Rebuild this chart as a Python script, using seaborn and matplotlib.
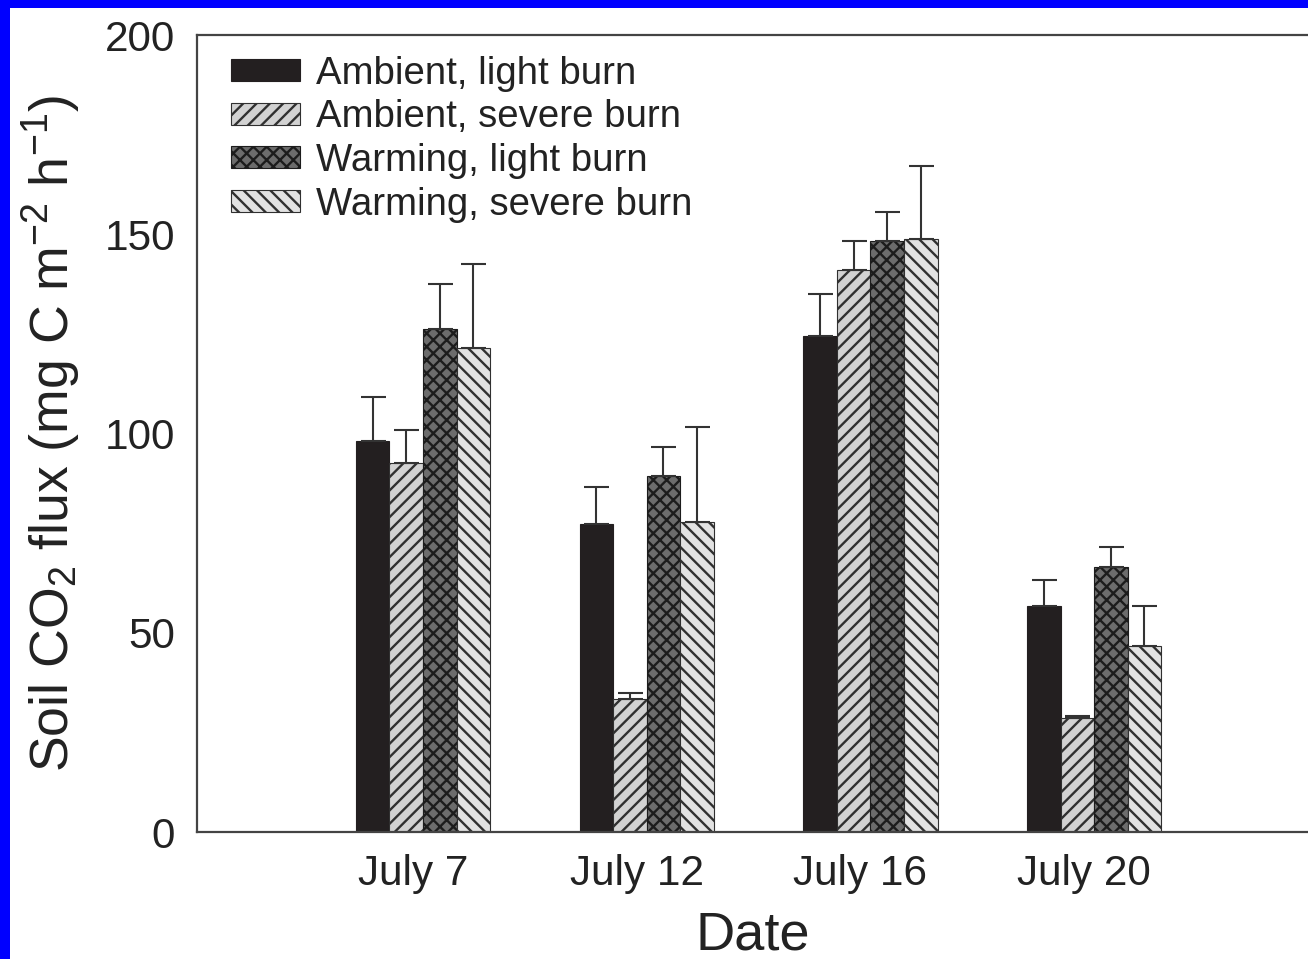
import matplotlib
matplotlib.use("Agg")
import matplotlib.pyplot as plt
from matplotlib.patches import Rectangle
from matplotlib.transforms import ScaledTranslation
import numpy as np
import pandas as pd
import seaborn as sns

# Soil CO2 flux (mean and upper standard error) by sampling date and treatment
dates = ["July 7", "July 12", "July 16", "July 20"]
treatments = ["Ambient, light burn", "Ambient, severe burn",
              "Warming, light burn", "Warming, severe burn"]
ambient_light = [98, 77.3, 124.5, 56.7]
ambient_severe = [92.6, 33.4, 141, 28.6]
warming_light = [126.2, 89.3, 148.3, 66.5]
warming_severe = [121.5, 77.8, 148.8, 46.7]
ambient_light_se = [11.2, 9.3, 10.5, 6.5]
ambient_severe_se = [8.3, 1.5, 7.3, 0.4]
warming_light_se = [11.3, 7.3, 7.3, 5.0]
warming_severe_se = [21.0, 23.8, 18.3, 10.0]

means = [ambient_light, ambient_severe, warming_light, warming_severe]
errors = [ambient_light_se, ambient_severe_se, warming_light_se, warming_severe_se]

df = pd.DataFrame({
    "Date": np.tile(dates, len(treatments)),
    "Treatment": np.repeat(treatments, len(dates)),
    "Flux": np.concatenate(means),
})

sns.set_theme(style="white")
plt.rcParams["font.family"] = ["Liberation Sans", "DejaVu Sans"]
plt.rcParams["mathtext.default"] = "regular"
plt.rcParams["hatch.linewidth"] = 0.85

facecolors = ["#231f20", "#d2d2d2", "#6c6c6c", "#e2e2e2"]
styles = [
    dict(hatch="", edgecolor="#231f20"),
    dict(hatch="/////", edgecolor="#303030"),
    dict(hatch="xxxxx", edgecolor="#1c1c1c"),
    dict(hatch="\\\\\\\\\\", edgecolor="#303030"),
]

fig = plt.figure(figsize=(6.54, 4.795), dpi=200)
ax = fig.add_axes([197 / 1308, 1 - 832 / 959, 1 - 197 / 1308, (832 - 35) / 959])

sns.barplot(data=df, x="Date", y="Flux", hue="Treatment", order=dates,
            hue_order=treatments, errorbar=None, width=0.6, ax=ax,
            palette=facecolors, saturation=1, legend=False)

for cont, st, se in zip(ax.containers, styles, errors):
    xs, ys = [], []
    for bar in cont:
        bar.set_hatch(st["hatch"])
        bar.set_edgecolor(st["edgecolor"])
        bar.set_linewidth(0.4)
        xs.append(bar.get_x() + bar.get_width() / 2)
        ys.append(bar.get_height())
    ax.errorbar(xs, ys, yerr=[np.zeros(len(se)), se], fmt="none",
                ecolor="#333333", elinewidth=0.75, capsize=4.5,
                capthick=0.75, zorder=1)

# Legend built from the same treatment styles
handles = [Rectangle((0, 0), 1, 1, facecolor=fc, hatch=st["hatch"],
                     edgecolor=st["edgecolor"], linewidth=0.4)
           for fc, st in zip(facecolors, styles)]
leg = ax.legend(handles, treatments, loc="upper left",
                bbox_to_anchor=(0.01, 1.003), frameon=False,
                fontsize=13.8, handlelength=1.8, handleheight=0.5,
                handletextpad=0.42, labelspacing=0.2, borderaxespad=0.2)
for t in leg.get_texts():
    t.set_color("#222222")

ax.set_ylim(0, 200)
ax.set_xlim(-1.01, 3.956)
ax.set_yticks([0, 50, 100, 150, 200])
ax.tick_params(axis="both", length=0, labelsize=15.2, colors="#222222")
ax.tick_params(axis="y", pad=8)
ax.tick_params(axis="x", pad=8)
# date labels sit slightly left of the bar groups
shift = ScaledTranslation(-0.05, 0, fig.dpi_scale_trans)
for lab in ax.get_xticklabels():
    lab.set_transform(lab.get_transform() + shift)
ax.set_xlabel("Date", fontsize=19.5, color="#222222", labelpad=6)
ax.set_ylabel("Soil CO$_2$ flux (mg C m$^{-2}$ h$^{-1}$)", fontsize=19.3,
              color="#222222", labelpad=8)

for side in ["left", "top", "bottom"]:
    ax.spines[side].set_color("#444444")
    ax.spines[side].set_linewidth(0.8)
ax.spines["right"].set_visible(False)

# Blue frame strips along the left and top edges
fig.patches.append(Rectangle((0, 0), 10 / 1308, 1, transform=fig.transFigure,
                             facecolor="#0000ff", edgecolor="none", zorder=10))
fig.patches.append(Rectangle((0, 1 - 8 / 959), 1, 8 / 959, transform=fig.transFigure,
                             facecolor="#0000ff", edgecolor="none", zorder=10))

fig.savefig("out.png", dpi=200)
